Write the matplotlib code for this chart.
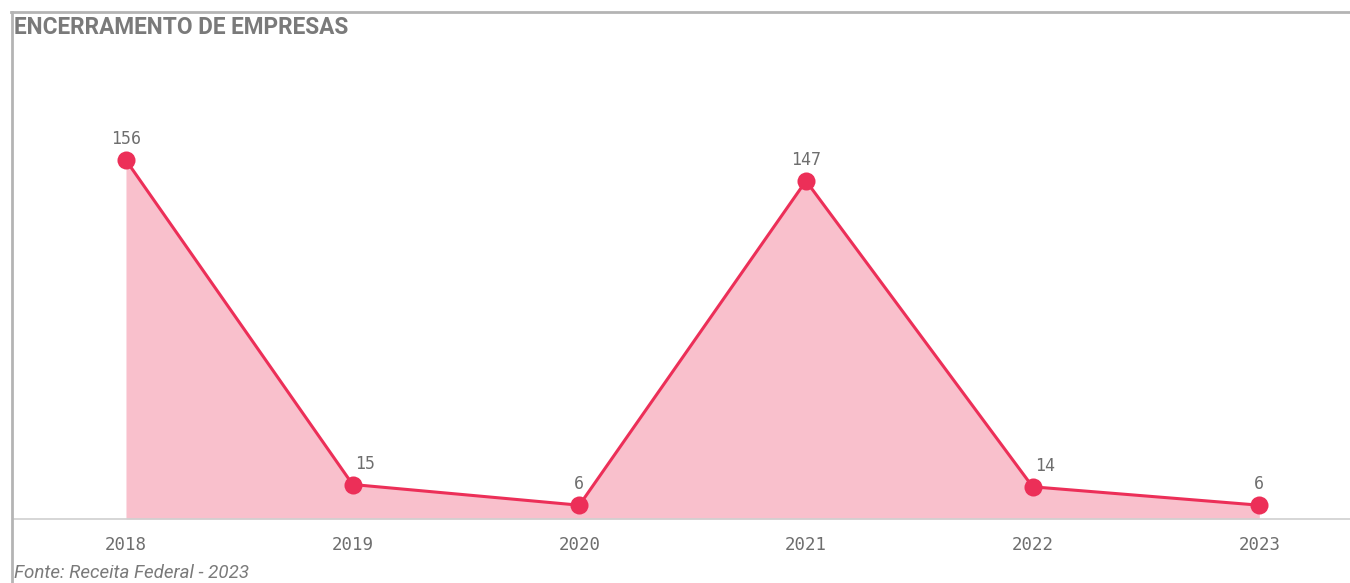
import matplotlib.pyplot as plt
from matplotlib.lines import Line2D

# data
YEARS = [2018, 2019, 2020, 2021, 2022, 2023]
CLOSED = [156, 15, 6, 147, 14, 6]

LINE_COLOR = '#ec2f58'
FILL_COLOR = '#f9c0cc'
GRAY = '#6e6e6e'

fig = plt.figure(figsize=(13.5, 5.83), dpi=100)
W, H = 1350, 583

# plot area in pixel coords -> figure fraction
left, right, top, bottom = 14, 1350, 40, 519
ax = fig.add_axes([left / W, 1 - bottom / H, (right - left) / W, (bottom - top) / H])

ax.fill_between(YEARS, CLOSED, 0, color=FILL_COLOR, lw=0, zorder=1)
ax.plot(YEARS, CLOSED, color=LINE_COLOR, lw=2.2, marker='o', ms=13,
        markeredgewidth=0, zorder=3, clip_on=False)

for i, (x, y) in enumerate(zip(YEARS, CLOSED)):
    # labels after a steep drop are nudged right, clear of the line
    dx = 9 if i > 0 and CLOSED[i - 1] - y > 50 else 0
    ax.annotate(str(y), (x, y), xytext=(dx, 15), textcoords='offset points',
                ha='center', va='center', fontsize=12, color=GRAY,
                family='DejaVu Sans Mono')

ax.set_xlim(2017.506, 2023.40)
ax.set_ylim(0, (bottom - top) / 2.30)
ax.set_xticks(YEARS)
ax.set_xticklabels([str(y) for y in YEARS], family='DejaVu Sans Mono',
                   fontsize=12.5, color=GRAY)
ax.tick_params(axis='x', length=0, pad=12)
ax.set_yticks([])
for s in ['top', 'right', 'left']:
    ax.spines[s].set_visible(False)
ax.spines['bottom'].set_color('#d0d0d0')
ax.spines['bottom'].set_linewidth(1.2)

# outer frame (top and left edges)
fig.add_artist(Line2D([11 / W, 1], [1 - 11.5 / H, 1 - 11.5 / H],
                      transform=fig.transFigure, color='#b4b4b4', lw=2))
fig.add_artist(Line2D([11.5 / W, 11.5 / W], [0, 1 - 11.5 / H],
                      transform=fig.transFigure, color='#b4b4b4', lw=2))

fig.text(14 / W, 1 - 27 / H, 'ENCERRAMENTO DE EMPRESAS', fontsize=16.3,
         fontweight='bold', family='Roboto', color='#7a7a7a',
         va='center', ha='left')
fig.text(14 / W, 1 - 573 / H, 'Fonte: Receita Federal - 2023', fontsize=13.5,
         style='italic', family='Roboto', color='#7a7a7a',
         va='center', ha='left')

fig.savefig('out.png', dpi=100, facecolor='white')
